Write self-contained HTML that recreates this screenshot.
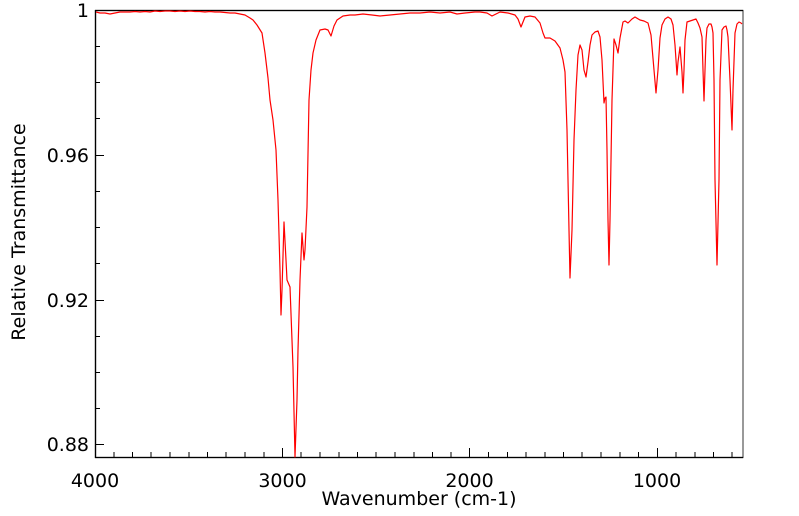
<!DOCTYPE html>
<html><head><style>
body{margin:0;background:#fff;}
svg{display:block;font-family:"DejaVu Sans","Liberation Sans",sans-serif;}
</style></head><body>
<svg width="799" height="516" viewBox="0 0 799 516" xmlns="http://www.w3.org/2000/svg">
<rect x="95.5" y="10.5" width="647.5" height="447" fill="none" stroke="#555" stroke-width="1.2"/>
<line x1="95.5" y1="10" x2="95.5" y2="458" stroke="#000" stroke-width="1.3"/>
<line x1="95" y1="457.5" x2="743" y2="457.5" stroke="#000" stroke-width="1.3"/>
<line x1="95" y1="10.5" x2="743" y2="10.5" stroke="#000" stroke-width="1.3"/>
<g stroke="#000" stroke-width="1">
<path d="M95 10.5h9M95 155.5h9M95 300.5h9M95 444.5h9"/>
<path d="M95 46.5h5M95 82.5h5M95 118.5h5M95 191.5h5M95 227.5h5M95 263.5h5M95 336.5h5M95 372.5h5M95 408.5h5"/>
<path d="M282.5 457v-9M469.5 457v-9M657.5 457v-9"/>
<path d="M114 457v-5M132.5 457v-5M151 457v-5M170 457v-5M189 457v-5M207.5 457v-5M226 457v-5M245 457v-5M264 457v-5M301 457v-5M320 457v-5M339 457v-5M357.5 457v-5M376 457v-5M395 457v-5M414 457v-5M432.5 457v-5M451 457v-5M488.5 457v-5M507.5 457v-5M526 457v-5M545 457v-5M563.5 457v-5M582 457v-5M601 457v-5M620 457v-5M638.5 457v-5M676 457v-5M695 457v-5M713.5 457v-5M732 457v-5"/>
</g>
<g font-size="19" fill="#000">
<text x="89" y="17" text-anchor="end">1</text>
<text x="89" y="162" text-anchor="end">0.96</text>
<text x="89" y="307" text-anchor="end">0.92</text>
<text x="89" y="451" text-anchor="end">0.88</text>
<text x="95" y="487" text-anchor="middle">4000</text>
<text x="282.5" y="487" text-anchor="middle">3000</text>
<text x="469.5" y="487" text-anchor="middle">2000</text>
<text x="657" y="487" text-anchor="middle">1000</text>
<text x="419" y="505" text-anchor="middle">Wavenumber (cm-1)</text>
<text transform="translate(25,232) rotate(-90)" text-anchor="middle">Relative Transmittance</text>
</g>
<polyline fill="none" stroke="#f00" stroke-width="1.2" stroke-linejoin="round" points="
96,12 100,13 105,13 110,14 115,13 120,12 125,12 130,12 135,11.5 140,12 145,11.5 150,12 155,11 160,11.5 165,11 170,11 175,11.5 180,11 185,11.5 190,11 195,11.5 200,11.5 205,12 210,11.5 215,12 220,12 225,12.5 230,13 235,13 240,14 245,15 250,18 253,20 257,25 262,33 265,53 268,78 270,100 273,120 276,150 278,200 280,270 281,315 282,290 284,222 286,260 287,280 290,287 293,367 295,457 297,400 298,350 300,280 302,233 304,260 305,250 307,207 309,100 311,70 313,53 316,40 320,30 325,29 328,30 331,36 334,26 337,20 343,16 350,15 355,15 363,14 372,15 380,16 390,15 400,14 410,13 420,13 430,12 440,13 450,12 457,14 465,13 475,12 480,12 487,13 492,16 496,14 500,12 508,13 515,15 518,19 521,27 523,22 525,17 530,16 535,17 540,23 543,33 545,38 550,38 555,41 560,48 563,60 565,72 567,130 569,230 570,278 572,230 574,140 576,90 578,55 580,45 582,50 584,70 586,77 588,62 590,45 592,35 595,32 598,31 600,37 602,60 604,103 605,98 606,97 607,150 608,220 609,265 610,220 612,100 614,39 616,45 618,53 620,38 623,22 625,21 628,23 632,19 635,17 640,20 644,21 648,23 651,35 654,70 656,93 658,70 660,38 662,25 665,19 668,17 671,19 673,25 675,45 677,75 678,62 680,47 682,72 683,93 684,70 685,40 687,22 690,21 693,20 696,19 698,23 700,28 702,37 703,70 704,101 705,70 706,40 707,28 709,24 711,24 712,27 713,33 714,80 715,180 717,265 719,180 720,80 722,30 724,27 726,26 727,30 728,37 730,80 732,130 733,90 735,33 737,24 739,22 741,23 742,24"/>
</svg>
</body></html>
